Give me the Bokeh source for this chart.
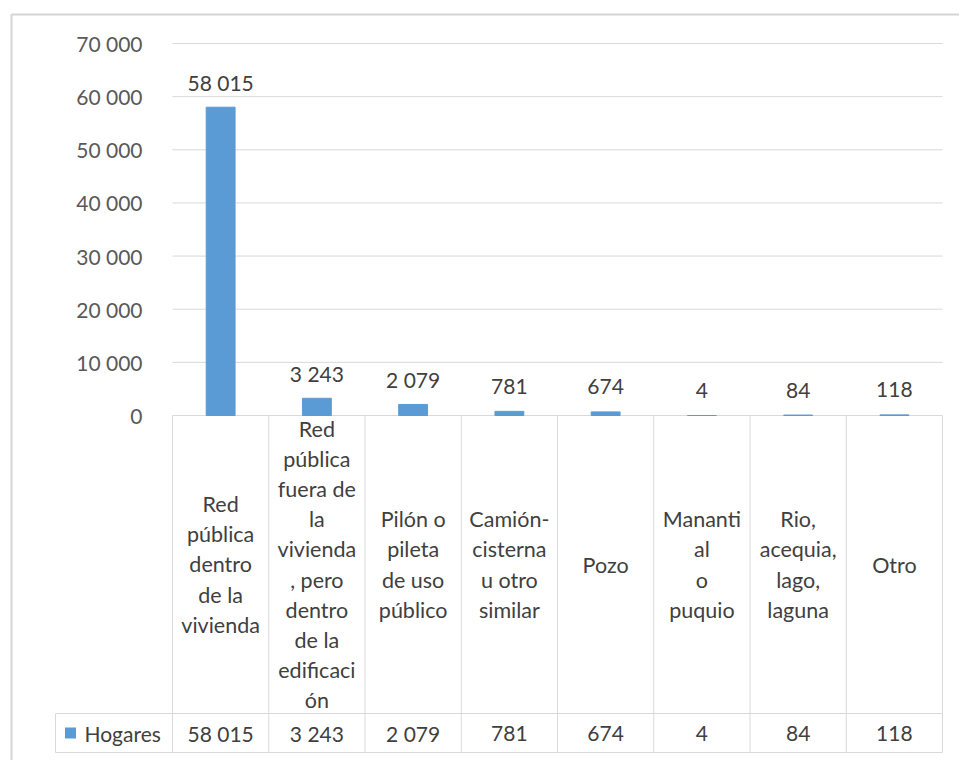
from bokeh.plotting import figure
from bokeh.models import Range1d, FixedTicker, LinearAxis
from bokeh.core.properties import value
from bokeh.embed import file_html
from bokeh.resources import INLINE

# ---- data -------------------------------------------------------------
categories = [
    "Red\npública\ndentro\nde la\nvivienda",
    "Red\npública\nfuera de\nla\nvivienda\n, pero\ndentro\nde la\nedificaci\nón",
    "Pilón o\npileta\nde uso\npúblico",
    "Camión-\ncisterna\nu otro\nsimilar",
    "Pozo",
    "Mananti\nal\no\npuquio",
    "Rio,\nacequia,\nlago,\nlaguna",
    "Otro",
]
hogares = [58015, 3243, 2079, 781, 674, 4, 84, 118]
series_name = "Hogares"
y_ticks = [0, 10000, 20000, 30000, 40000, 50000, 60000, 70000]
y_tick_labels = ["0", "10 000", "20 000", "30 000", "40 000", "50 000", "60 000", "70 000"]


def fmt(v):
    return f"{v:,}".replace(",", " ")


value_labels = [fmt(v) for v in hogares]

# ---- geometry (pixels) ------------------------------------------------
W, H = 959, 760
PLOT_L, PLOT_R = 172, 942           # left / right edge of the plot area
ZERO_PX, TOP_PX = 415, 43           # pixel rows of 0 and 70 000
ROW_SEP_PX, TABLE_BOTTOM_PX = 713, 752
LEGEND_L = 55
BORDER_L, BORDER_T = 11, 14

FONT = value("Lato")
FS = "21px"
TXT = "#404040"
GRID = "#D9D9D9"
BLUE = "#5B9BD5"

n = len(categories)
col_px = (PLOT_R - PLOT_L) / n
units_per_px = (y_ticks[-1] - y_ticks[0]) / (ZERO_PX - TOP_PX)


def px_x(px):
    """Pixel column -> data value on the x scale (one unit per category)."""
    return (px - PLOT_L) / col_px


def px_y(px):
    """Pixel row -> data value on the y scale."""
    return (ZERO_PX - px) * units_per_px


p = figure(
    width=W, height=H,
    x_range=Range1d(px_x(0), px_x(W)), y_range=Range1d(px_y(H), px_y(0)),
    min_border_left=0, min_border_right=0, min_border_top=0, min_border_bottom=0,
    x_axis_location=None, y_axis_location=None, toolbar_location=None,
    output_backend="svg",
)
p.outline_line_color = None
p.background_fill_color = "white"
p.border_fill_color = "white"
p.xgrid.visible = False
p.ygrid.visible = False

# value axis, pinned to the left edge of the plot area
ax = LinearAxis(fixed_location=0, ticker=FixedTicker(ticks=y_ticks))
ax.major_label_overrides = {t: s for t, s in zip(y_ticks, y_tick_labels)}
ax.axis_line_color = None
ax.major_tick_line_color = None
ax.minor_tick_line_color = None
ax.major_label_standoff = 24
ax.major_label_text_font = "Lato"
ax.major_label_text_font_size = FS
ax.major_label_text_color = "#595959"
p.add_layout(ax, "left")

# horizontal gridlines across the plot area
p.segment(x0=[0] * len(y_ticks), y0=y_ticks, x1=[n] * len(y_ticks), y1=y_ticks,
          line_color=GRID, line_width=1)

centers = [i + 0.5 for i in range(n)]

# bars (thin outline keeps the very small ones visible)
p.vbar(x=centers, top=hogares, bottom=0, width=0.3, fill_color=BLUE,
       line_color=BLUE, line_width=1)

# value labels above bars
p.text(x=centers, y=hogares, text=value_labels, y_offset=-25,
       text_align="center", text_baseline="middle",
       text_font=FONT, text_font_size=FS, text_color=TXT)

# data table: column borders and row lines
p.segment(x0=list(range(n + 1)), y0=[0] * (n + 1),
          x1=list(range(n + 1)), y1=[px_y(TABLE_BOTTOM_PX)] * (n + 1),
          line_color=GRID, line_width=1)
p.segment(x0=[px_x(LEGEND_L)] * 2, y0=[px_y(ROW_SEP_PX), px_y(TABLE_BOTTOM_PX)],
          x1=[n, n], y1=[px_y(ROW_SEP_PX), px_y(TABLE_BOTTOM_PX)],
          line_color=GRID, line_width=1)
p.segment(x0=[px_x(LEGEND_L)], y0=[px_y(ROW_SEP_PX)],
          x1=[px_x(LEGEND_L)], y1=[px_y(TABLE_BOTTOM_PX)],
          line_color=GRID, line_width=1)

# category names
p.text(x=centers, y=[px_y((ZERO_PX + ROW_SEP_PX) / 2)] * n, text=categories,
       text_align="center", text_baseline="middle", text_line_height=1.16,
       text_font=FONT, text_font_size="21.5px", text_color=TXT)

# values row
row_mid = px_y((ROW_SEP_PX + TABLE_BOTTOM_PX) / 2)
p.text(x=centers, y=[row_mid] * n, text=value_labels,
       text_align="center", text_baseline="middle",
       text_font=FONT, text_font_size=FS, text_color=TXT)

# legend key of the table row
p.scatter(x=[px_x(70)], y=[row_mid], marker="square", size=11,
          fill_color=BLUE, line_color=None)
p.text(x=[px_x(84)], y=[row_mid], text=[series_name],
       text_align="left", text_baseline="middle",
       text_font=FONT, text_font_size=FS, text_color=TXT)

# chart area border (top and left)
p.segment(x0=[px_x(BORDER_L), px_x(BORDER_L)], y0=[px_y(BORDER_T), px_y(BORDER_T)],
          x1=[px_x(W), px_x(BORDER_L)], y1=[px_y(BORDER_T), px_y(H)],
          line_color="#D4D4D4", line_width=2)

open("out.html", "w").write(file_html(p, INLINE))
